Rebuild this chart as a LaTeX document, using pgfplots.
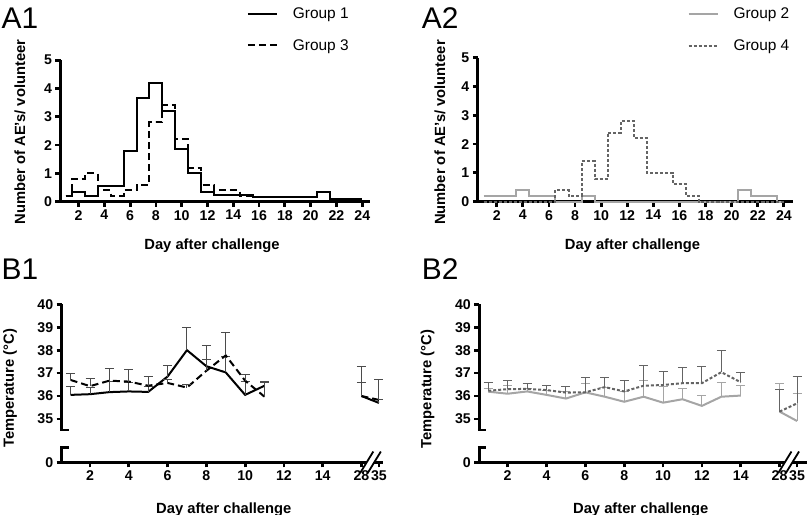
\documentclass[border=0pt]{standalone}
\usepackage{fontspec}
\setmainfont{Liberation Sans}
\usepackage{pgfplots}
\usepackage{pgfplotstable}
\pgfplotsset{compat=1.18}

\definecolor{grpTwo}{RGB}{165,165,165}
\definecolor{grpFour}{RGB}{100,100,100}
\definecolor{errDark}{RGB}{75,75,75}

% A: number of AEs per volunteer, by day
\pgfplotstableread{
x g1 g3
1 0.20 0.2
2 0.33 0.8
3 0.20 1.0
4 0.55 0.4
5 0.55 0.2
6 1.80 0.4
7 3.67 0.6
8 4.20 2.8
9 3.20 3.4
10 1.87 2.2
11 1.00 1.2
12 0.33 0.6
13 0.22 0.4
14 0.22 0.4
15 0.22 0.2
16 0.15 0.0
17 0.15 0.0
18 0.15 0.0
19 0.15 0.0
20 0.15 0.0
21 0.33 0.0
22 0.08 0.0
23 0.08 0.0
24 0.08 0.0
}\tabAone

\pgfplotstableread{
x g2 g4
1 0.2 0.0
2 0.2 0.0
3 0.2 0.0
4 0.4 0.0
5 0.2 0.0
6 0.2 0.0
7 0.0 0.4
8 0.0 0.2
9 0.2 1.4
10 0.0 0.8
11 0.0 2.4
12 0.0 2.8
13 0.0 2.2
14 0.0 1.0
15 0.0 1.0
16 0.0 0.6
17 0.0 0.2
18 0.0 0.0
19 0.0 0.0
20 0.0 0.0
21 0.4 0.0
22 0.2 0.0
23 0.2 0.0
24 0.0 0.0
}\tabAtwo

% B: temperature, mean and upper error
% x = 16 stands for day 28, x = 16.9 for day 35
\pgfplotstableread{
x y e
1 36.05 0.37
2 36.08 0.30
3 36.17 0.45
4 36.20 0.40
5 36.18 0.25
6 36.85 0.47
7 38.00 0.98
8 37.30 0.90
9 37.03 0.70
10 36.05 0.60
11 36.45 0.20
}\tabBoneGone
\pgfplotstableread{
x y e
16 36.00 1.30
16.9 35.70 0.15
}\tabBoneGoneLate
\pgfplotstableread{
x y e
1 36.70 0.27
2 36.43 0.33
3 36.67 0.52
4 36.63 0.52
5 36.45 0.38
6 36.57 0.15
7 36.37 0.15
8 37.10 0.50
9 37.77 1.00
10 36.67 0.25
11 35.97 0.64
}\tabBoneGthree
\pgfplotstableread{
x y e
16 36.00 0.60
16.9 35.83 0.87
}\tabBoneGthreeLate

\pgfplotstableread{
x y e
1 36.19 0.16
2 36.10 0.35
3 36.20 0.15
4 36.05 0.20
5 35.89 0.30
6 36.16 0.40
7 35.97 0.40
8 35.75 0.45
9 35.97 0.69
10 35.71 0.70
11 35.86 0.48
12 35.57 0.45
13 35.97 0.60
14 36.02 0.45
}\tabBtwoGtwo
\pgfplotstableread{
x y e
16 35.32 1.24
16.9 34.91 1.21
}\tabBtwoGtwoLate
\pgfplotstableread{
x y e
1 36.23 0.37
2 36.30 0.36
3 36.31 0.25
4 36.26 0.22
5 36.15 0.26
6 36.16 0.64
7 36.39 0.41
8 36.20 0.46
9 36.45 0.88
10 36.48 0.58
11 36.56 0.68
12 36.56 0.72
13 37.04 0.96
14 36.60 0.42
}\tabBtwoGfour
\pgfplotstableread{
x y e
16 35.32 0.98
16.9 35.68 1.19
}\tabBtwoGfourLate

\pgfplotsset{
  gp/.style={
    scale only axis, clip=false,
    axis x line*=bottom, axis y line*=left,
    axis line style={-, line width=2.8bp},
    tick align=outside, major tick length=5bp,
    major tick style={line width=2.8bp, black},
    tick label style={font=\bfseries\fontsize{14.2}{15}\selectfont},
    /pgf/number format/assume math mode=true,
    label style={font=\bfseries\fontsize{14.8}{15}\selectfont},
  },
  step/.style={const plot mark mid, line width=2bp, mark=none},
  temp/.style={line width=2bp, mark=none},
  errs/.style={
    error bars/y dir=plus, error bars/y explicit,
    error bars/error bar style={solid, line width=1bp, color=#1},
    error bars/error mark options={solid, rotate=90, line width=1bp, color=#1, mark size=4.5bp},
  },
  leg/.style={
    legend style={at={#1}, anchor=north west, draw=none, fill=none,
      inner sep=0pt, row sep=19bp, nodes={inner sep=0pt},
      font=\fontsize{15.5}{16}\selectfont},
    legend image code/.code={\draw[##1] (-2bp,0bp) -- (27bp,0bp); \path (42bp,0bp);},
    legend cell align=left,
  },
  brokeny/.style={y axis line style={draw=none}},
}

\begin{document}
\begin{tikzpicture}
\useasboundingbox (0,0) rectangle (810bp,515bp);

% ---- A1 ----
\begin{axis}[gp, at={(60.5bp,313.3bp)}, anchor=south west,
  width=309.5bp, height=141.5bp,
  xmin=0.6, xmax=24.6, ymin=0, ymax=5,
  xtick={2,4,...,24}, ytick={0,1,...,5},
  xlabel={Day after challenge}, ylabel={Number of AE's/ volunteer},
  xlabel style={at={(axis description cs:0.4895,-0.336)}, anchor=base},
  ylabel style={at={(axis description cs:-0.131,0.4926)}, anchor=center},
  leg={(axis description cs:0.6016,1.37)}]
\addplot[step, black] table[x=x, y=g1] \tabAone;
\addlegendentry{Group 1}
\addplot[step, black, dash pattern=on 7bp off 4bp] table[x=x, y=g3] \tabAone;
\addlegendentry{Group 3}
\end{axis}

% ---- A2 ----
\begin{axis}[gp, at={(477.8bp,313.3bp)}, anchor=south west,
  width=315.2bp, height=144bp,
  xmin=0.55, xmax=24.7, ymin=0, ymax=5,
  xtick={2,4,...,24}, ytick={0,1,...,5},
  xlabel={Day after challenge}, ylabel={Number of AE's/ volunteer},
  xlabel style={at={(axis description cs:0.4908,-0.3306)}, anchor=base},
  ylabel style={at={(axis description cs:-0.12,0.4806)}, anchor=center},
  leg={(axis description cs:0.6647,1.345)}]
\addplot[step, grpTwo] table[x=x, y=g2] \tabAtwo;
\addlegendentry{Group 2}
\addplot[step, grpFour, dash pattern=on 3bp off 2bp] table[x=x, y=g4] \tabAtwo;
\addlegendentry{Group 4}
\end{axis}

% ---- B1 ----
\begin{axis}[gp, brokeny, at={(61.7bp,52.7bp)}, anchor=south west,
  width=321.1bp, height=158bp,
  xmin=0.54, xmax=17.1, ymin=33.11, ymax=40,
  xtick={2,4,6,8,10,12,14,16,16.9}, xticklabels={2,4,6,8,10,12,14,28,35},
  ytick={33.11,35,36,37,38,39,40}, yticklabels={0,35,36,37,38,39,40},
  xlabel={Day after challenge}, ylabel={Temperature (°C)},
  xlabel style={at={(axis description cs:0.5048,-0.323)}, anchor=base},
  ylabel style={at={(axis description cs:-0.161,0.468)}, anchor=center}]
\addplot[temp, black, errs=errDark] table[x=x, y=y, y error=e] \tabBoneGone;
\addplot[temp, black, errs=errDark] table[x=x, y=y, y error=e] \tabBoneGoneLate;
\addplot[temp, black, dash pattern=on 7bp off 4bp, errs=errDark] table[x=x, y=y, y error=e] \tabBoneGthree;
\addplot[temp, black, dash pattern=on 7bp off 4bp, errs=errDark] table[x=x, y=y, y error=e] \tabBoneGthreeLate;
% broken y axis
\draw[line width=2.8bp] (axis cs:0.54,40) -- (axis cs:0.54,34.52);
\draw[line width=2.8bp] ([xshift=-1.4bp]axis cs:0.54,34.52) -- ([xshift=7bp]axis cs:0.54,34.52);
\draw[line width=2.8bp] (axis cs:0.54,33.11) -- (axis cs:0.54,33.75);
\draw[line width=2.8bp] ([xshift=-1.4bp]axis cs:0.54,33.75) -- ([xshift=7bp]axis cs:0.54,33.75);
% break on x axis
\fill[white] (axis cs:16.22,33.02) -- (axis cs:16.61,33.02) -- (axis cs:16.71,33.2) -- (axis cs:16.32,33.2) -- cycle;
\draw[line width=1.8bp] (axis cs:15.93,32.64) -- (axis cs:16.61,33.58);
\draw[line width=1.8bp] (axis cs:16.32,32.64) -- (axis cs:17.0,33.58);
\end{axis}

% ---- B2 ----
\begin{axis}[gp, brokeny, at={(479.3bp,52.7bp)}, anchor=south west,
  width=327.5bp, height=158bp,
  xmin=0.54, xmax=17.4, ymin=33.11, ymax=40,
  xtick={2,4,6,8,10,12,14,16,16.9}, xticklabels={2,4,6,8,10,12,14,28,35},
  ytick={33.11,35,36,37,38,39,40}, yticklabels={0,35,36,37,38,39,40},
  xlabel={Day after challenge}, ylabel={Temperature (°C)},
  xlabel style={at={(axis description cs:0.493,-0.323)}, anchor=base},
  ylabel style={at={(axis description cs:-0.158,0.464)}, anchor=center}]
\addplot[temp, grpTwo, errs=grpTwo] table[x=x, y=y, y error=e] \tabBtwoGtwo;
\addplot[temp, grpTwo, errs=grpTwo] table[x=x, y=y, y error=e] \tabBtwoGtwoLate;
\addplot[temp, grpFour, dash pattern=on 3bp off 2bp, errs=grpFour] table[x=x, y=y, y error=e] \tabBtwoGfour;
\addplot[temp, grpFour, dash pattern=on 3bp off 2bp, errs=grpFour] table[x=x, y=y, y error=e] \tabBtwoGfourLate;
\draw[line width=2.8bp] (axis cs:0.54,40) -- (axis cs:0.54,34.52);
\draw[line width=2.8bp] ([xshift=-1.4bp]axis cs:0.54,34.52) -- ([xshift=7bp]axis cs:0.54,34.52);
\draw[line width=2.8bp] (axis cs:0.54,33.11) -- (axis cs:0.54,33.75);
\draw[line width=2.8bp] ([xshift=-1.4bp]axis cs:0.54,33.75) -- ([xshift=7bp]axis cs:0.54,33.75);
\fill[white] (axis cs:16.22,33.02) -- (axis cs:16.61,33.02) -- (axis cs:16.71,33.2) -- (axis cs:16.32,33.2) -- cycle;
\draw[line width=1.8bp] (axis cs:15.93,32.64) -- (axis cs:16.61,33.58);
\draw[line width=1.8bp] (axis cs:16.32,32.64) -- (axis cs:17.0,33.58);
\end{axis}

% panel letters
\node[anchor=base west, inner sep=0pt, font=\fontsize{30}{30}\selectfont] at (1.5bp,486.7bp) {A1};
\node[anchor=base west, inner sep=0pt, font=\fontsize{30}{30}\selectfont] at (421.7bp,486.7bp) {A2};
\node[anchor=base west, inner sep=0pt, font=\fontsize{30}{30}\selectfont] at (1.5bp,235.7bp) {B1};
\node[anchor=base west, inner sep=0pt, font=\fontsize{30}{30}\selectfont] at (421.7bp,235.7bp) {B2};
\end{tikzpicture}
\end{document}
